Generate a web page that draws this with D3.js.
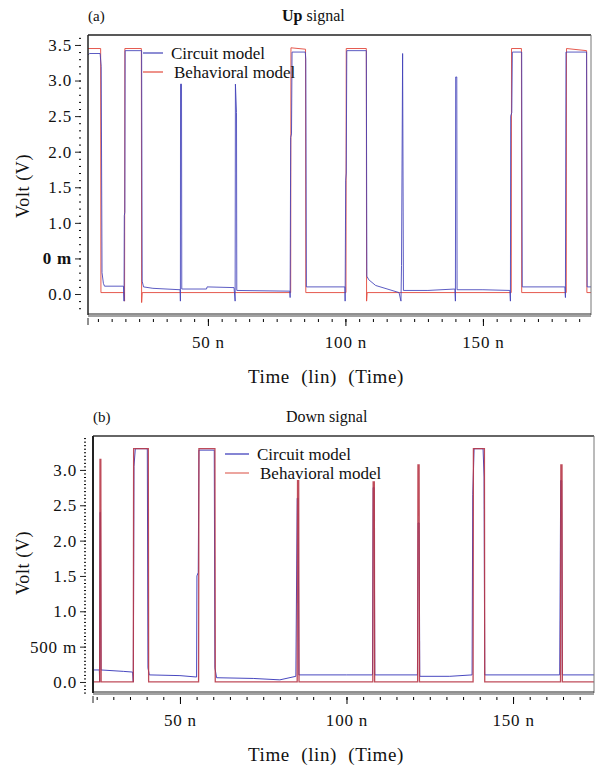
<!DOCTYPE html>
<html lang="en">
<head>
<meta charset="UTF-8">
<title>Up signal / Down signal</title>
<script src="https://cdn.jsdelivr.net/npm/d3@7"></script>
<style>
  body { margin: 0; background: #fff; }
  svg text { font-family: "Liberation Serif", "Times New Roman", serif !important; fill: #111; }
</style>
</head>
<body>
<div id="container"></div>
<script>
// ---- (a) Up signal ----
const upCircuitT = [6.4, 7.0, 10.8, 11.2, 11.5, 12.0, 12.4, 19.3, 19.5, 19.6, 19.8, 19.9, 25.9, 26.1, 26.6, 30, 39.9, 40.0, 40.05, 40.4, 40.5, 49.5, 49.7, 59.5, 59.9, 60.0, 60.4, 60.5, 79.8, 79.9, 80.1, 80.4, 80.6, 85.4, 85.6, 85.8, 99.8, 99.9, 100.1, 100.3, 100.5, 107.6, 107.8, 108.5, 111, 119.5, 120.2, 120.4, 120.8, 121.1, 130, 139.8, 140.0, 140.1, 140.5, 140.6, 150, 159.8, 160.0, 160.1, 160.5, 160.7, 164.1, 164.3, 179.8, 180.0, 180.2, 187.7, 187.9, 189.3];
const upCircuitV = [3.36, 3.38, 3.38, 3.2, 0.3, 0.15, 0.11, 0.11, -0.1, 1.1, 1.15, 3.42, 3.42, 0.18, 0.1, 0.08, 0.06, -0.1, 2.95, 2.95, 0.07, 0.07, 0.1, 0.09, -0.1, 2.95, 2.55, 0.05, 0.04, -0.05, 2.2, 2.25, 3.4, 3.4, 3.3, 0.1, 0.1, -0.1, 1.6, 1.7, 3.42, 3.42, 0.25, 0.2, 0.12, 0.02, -0.1, 0.4, 3.38, 0.05, 0.05, 0.07, -0.1, 3.05, 3.05, 0.06, 0.06, 0.05, -0.1, 2.5, 2.55, 3.4, 3.4, 0.1, 0.1, -0.05, 3.4, 3.4, 0.1, 0.1];
const upBehavT = [6.4, 11.0, 11.1, 19.6, 19.7, 19.8, 25.8, 25.9, 26.1, 80.1, 80.2, 85.5, 85.6, 100.2, 100.3, 107.6, 107.7, 107.9, 160.3, 160.4, 164.0, 164.1, 180.3, 180.4, 187.7, 187.8, 189.3];
const upBehavV = [3.45, 3.45, 0.02, 0.02, -0.1, 3.45, 3.45, -0.12, 0.02, 0.02, 3.46, 3.44, 0.02, 0.02, 3.45, 3.45, -0.1, 0.02, 0.02, 3.45, 3.45, 0.02, 0.02, 3.45, 3.42, 0.02, 0.02];
const upYTicks = [0, 0.5, 1.0, 1.5, 2.0, 2.5, 3.0, 3.5];
const upYLabels = ["0.0", "0 m", "1.0", "1.5", "2.0", "2.5", "3.0", "3.5"];

// ---- (b) Down signal ----
const downCircuitT = [23.9, 25.8, 25.9, 26.0, 26.15, 26.3, 33, 35.8, 36.0, 36.2, 36.6, 40.2, 40.4, 40.8, 50, 55.0, 55.1, 55.5, 55.7, 60.3, 60.5, 61, 72, 80, 84.8, 85.2, 85.5, 85.7, 100, 107.8, 108.0, 108.3, 108.5, 121.3, 121.5, 121.8, 122.0, 131, 137.7, 137.9, 138.3, 141.0, 141.3, 141.5, 164.0, 164.3, 164.6, 164.8, 174.6];
const downCircuitV = [0.17, 0.17, 0.0, 2.4, 2.4, 0.17, 0.15, 0.14, 0.0, 3.05, 3.3, 3.3, 0.2, 0.1, 0.09, 0.07, 1.5, 1.55, 3.28, 3.28, 0.2, 0.06, 0.05, 0.03, 0.08, 2.6, 2.6, 0.1, 0.1, 0.1, 2.75, 2.75, 0.1, 0.1, 2.25, 2.25, 0.08, 0.08, 0.1, 2.65, 3.3, 3.3, 2.9, 0.1, 0.1, 2.85, 2.85, 0.1, 0.1];
const downBehavT = [23.9, 25.9, 26.0, 26.25, 26.35, 36.0, 36.1, 40.5, 40.6, 55.6, 55.7, 60.5, 60.6, 85.2, 85.3, 85.65, 85.75, 107.9, 108.0, 108.35, 108.45, 121.35, 121.45, 121.8, 121.9, 138.0, 138.1, 141.4, 141.5, 164.25, 164.35, 164.7, 164.8, 174.6];
const downBehavV = [0, 0, 3.15, 3.15, 0, 0, 3.3, 3.3, 0, 0, 3.3, 3.3, 0, 0, 2.85, 2.85, 0, 0, 2.83, 2.83, 0, 0, 3.07, 3.07, 0, 0, 3.3, 3.3, 0, 0, 3.07, 3.07, 0, 0];
const downYTicks = [0, 0.5, 1.0, 1.5, 2.0, 2.5, 3.0];
const downYLabels = ["0.0", "500 m", "1.0", "1.5", "2.0", "2.5", "3.0"];

const xTicks = [50, 100, 150];
const xLabels = ["50 n", "100 n", "150 n"];
const seriesNames = ["Circuit model", "Behavioral model"];
const serif = '"Liberation Serif", "Times New Roman", serif';

const svg = d3.select("#container").append("svg")
  .attr("width", 595).attr("height", 769);

const zip = (t, v) => t.map((d, i) => [d, v[i]]);

function drawPanel(p) {
  const g = svg.append("g");
  const x = d3.scaleLinear().domain(p.xDomain).range([p.left, p.right]);
  const y = d3.scaleLinear().domain(p.yDomain).range([p.bottom, p.top]);

  const clipId = "clip" + p.id;
  g.append("clipPath").attr("id", clipId).append("rect")
    .attr("x", p.left).attr("y", p.top)
    .attr("width", p.right - p.left).attr("height", p.bottom - p.top);

  const line = d3.line().x(d => x(d[0])).y(d => y(d[1]));
  const plot = g.append("g").attr("clip-path", `url(#${clipId})`);
  p.series.forEach(s => {
    plot.append("path").datum(s.data)
      .attr("fill", "none").attr("stroke", s.color)
      .attr("stroke-width", s.width).attr("stroke-opacity", s.opacity)
      .attr("d", line);
  });

  // frame
  g.append("line").attr("x1", p.left).attr("x2", p.right).attr("y1", p.top).attr("y2", p.top)
    .attr("stroke", p.topColor).attr("stroke-width", p.topWidth);
  g.append("line").attr("x1", p.right).attr("x2", p.right).attr("y1", p.top).attr("y2", p.bottom)
    .attr("stroke", "#777").attr("stroke-width", 1);
  g.append("line").attr("x1", p.left).attr("x2", p.left).attr("y1", p.top).attr("y2", p.bottom)
    .attr("stroke", "#222").attr("stroke-width", p.leftWidth);
  g.append("line").attr("x1", p.left).attr("x2", p.right).attr("y1", p.bottom - 1).attr("y2", p.bottom - 1)
    .attr("stroke", "#222").attr("stroke-width", 1);
  g.append("line").attr("x1", p.left).attr("x2", p.right).attr("y1", p.bottom + 1).attr("y2", p.bottom + 1)
    .attr("stroke", "#444").attr("stroke-width", 1);

  // y axis (minor then major)
  const yMinor = d3.range(Math.ceil(p.yDomain[0] / p.yMinorStep), Math.floor(p.yDomain[1] / p.yMinorStep) + 1)
    .map(k => k * p.yMinorStep);
  g.append("g").attr("transform", `translate(${p.yAxisX},0)`)
    .call(d3.axisLeft(y).tickValues(yMinor).tickSize(2).tickFormat(""))
    .call(a => a.select(".domain").remove());
  const ya = g.append("g").attr("transform", `translate(${p.yAxisX},0)`)
    .attr("font-family", serif)
    .call(d3.axisLeft(y).tickValues(p.yTicks).tickSize(6).tickPadding(3)
      .tickFormat((d, i) => p.yLabels[i]));
  ya.select(".domain").remove();
  ya.selectAll("text").style("font-size", "17px").style("letter-spacing", "0.8px")
    .style("font-weight", (d, i) => p.yLabels[i] === "0 m" ? "bold" : null);
  ya.selectAll("line").attr("stroke", "#222");

  // x axis below frame
  const xMinor = d3.range(Math.ceil(p.xDomain[0] / 5), Math.floor(p.xDomain[1] / 5) + 1).map(k => k * 5);
  g.append("g").attr("transform", `translate(0,${p.bottom + 4})`)
    .call(d3.axisBottom(x).tickValues(xMinor).tickSize(3).tickFormat(""))
    .call(a => a.select(".domain").remove());
  const xa = g.append("g").attr("transform", `translate(0,${p.bottom + 4})`)
    .attr("font-family", serif)
    .call(d3.axisBottom(x).tickValues(xTicks).tickSize(7).tickPadding(10)
      .tickFormat((d, i) => xLabels[i]));
  xa.select(".domain").remove();
  xa.selectAll("text").style("font-size", "17px").style("letter-spacing", "0.8px");
  g.append("line").attr("x1", p.left).attr("x2", p.left)
    .attr("y1", p.bottom + 3).attr("y2", p.bottom + 10).attr("stroke", "#222");

  // titles
  g.append("text").attr("x", p.left).attr("y", p.top - 14)
    .style("font-size", "15px").text(p.tag);
  const t = g.append("text").attr("x", p.titleX).attr("y", p.top - 14).style("font-size", "16px");
  t.append("tspan").style("font-weight", "bold").text(p.titleBold);
  t.append("tspan").text(p.titleRest);

  g.append("text").attr("x", 326).attr("y", p.bottom + 68).attr("text-anchor", "middle")
    .style("font-size", "19px").style("word-spacing", "6px").style("letter-spacing", "0.6px")
    .text("Time (lin) (Time)");
  g.append("text")
    .attr("transform", `translate(29,${p.yLabelY}) rotate(-90)`)
    .attr("text-anchor", "middle").style("letter-spacing", "0.6px")
    .style("font-size", "18px").text("Volt (V)");

  // legend: circuit first, behavioral second
  [0, 1].forEach(i => {
    const s = p.series.find(d => d.name === i);
    const ly = p.legendY + i * 19;
    g.append("line").attr("x1", p.legendX).attr("x2", p.legendX + p.legendLen)
      .attr("y1", ly).attr("y2", ly).attr("stroke", s.legendColor).attr("stroke-width", 1.2);
    g.append("text").attr("x", p.legendX + p.legendLen + 8 + i * 3).attr("y", ly + 6)
      .style("font-size", "17px").text(seriesNames[i]);
  });
}

drawPanel({
  id: "a", left: 88, right: 591, top: 35, bottom: 315,
  xDomain: [6.4, 189.3], yDomain: [-0.295, 3.64],
  yAxisX: 81, yMinorStep: 0.1, yTicks: upYTicks, yLabels: upYLabels,
  topColor: "#222", topWidth: 1.5, leftWidth: 1.5,
  tag: "(a)", titleX: 282, titleBold: "Up", titleRest: " signal",
  yLabelY: 186,
  legendX: 143, legendY: 53, legendLen: 20,
  series: [
    { name: 1, data: zip(upBehavT, upBehavV), color: "#e2483c", width: 1, opacity: 0.9, legendColor: "#e2483c" },
    { name: 0, data: zip(upCircuitT, upCircuitV), color: "#4040b8", width: 1, opacity: 0.85, legendColor: "#4040b8" }
  ]
});

drawPanel({
  id: "b", left: 93, right: 594, top: 436, bottom: 693,
  xDomain: [23.9, 174.3], yDomain: [-0.156, 3.48],
  yAxisX: 86, yMinorStep: 0.05, yTicks: downYTicks, yLabels: downYLabels,
  topColor: "#666", topWidth: 2, leftWidth: 2,
  tag: "(b)", titleX: 286, titleBold: "", titleRest: "Down signal",
  yLabelY: 563,
  legendX: 225, legendY: 454, legendLen: 24,
  series: [
    { name: 0, data: zip(downCircuitT, downCircuitV), color: "#3434b8", width: 1, opacity: 0.9, legendColor: "#3434b8" },
    { name: 1, data: zip(downBehavT, downBehavV), color: "#b83848", width: 1.3, opacity: 0.9, legendColor: "#e06a60" }
  ]
});
</script>
</body>
</html>
